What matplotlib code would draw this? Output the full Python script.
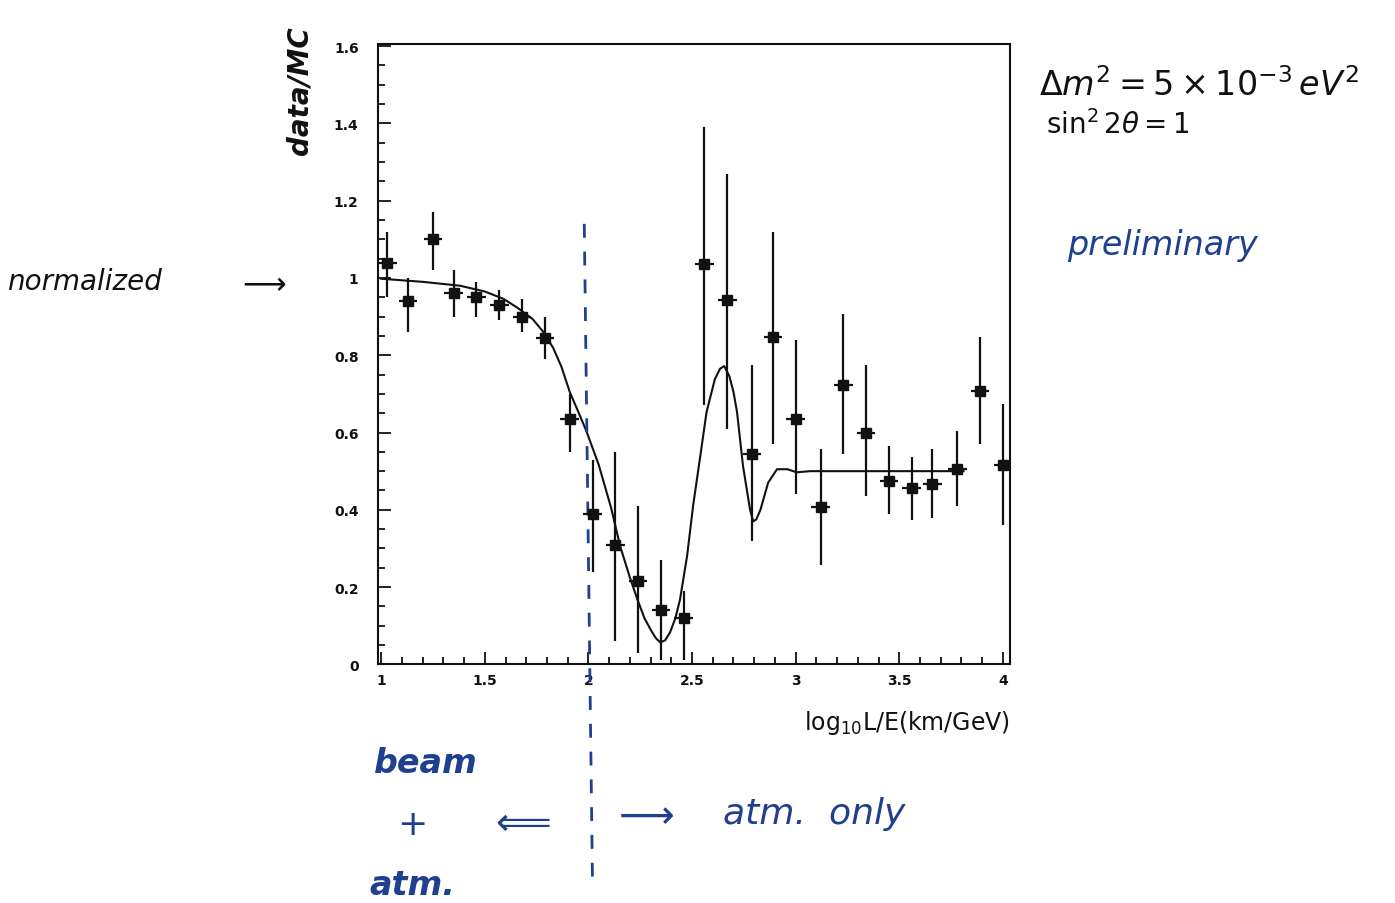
import numpy as np
import matplotlib
matplotlib.use("Agg")
import matplotlib.pyplot as plt
from matplotlib.ticker import MultipleLocator, FuncFormatter

# data / MC ratio points
x = [1.03, 1.13, 1.25, 1.35, 1.46, 1.57, 1.68, 1.79, 1.91, 2.02, 2.13, 2.24, 2.35, 2.46,
     2.56, 2.67, 2.79, 2.89, 3.00, 3.12, 3.23, 3.34, 3.45, 3.56, 3.66, 3.78, 3.89, 4.00]
y = [1.04, 0.94, 1.10, 0.96, 0.95, 0.93, 0.90, 0.845, 0.635, 0.39, 0.31, 0.215, 0.14, 0.12,
     1.036, 0.943, 0.544, 0.847, 0.635, 0.407, 0.723, 0.60, 0.474, 0.456, 0.466, 0.505, 0.707, 0.516]
y_hi = [1.12, 1.00, 1.17, 1.02, 0.99, 0.97, 0.945, 0.90, 0.70, 0.53, 0.55, 0.41, 0.27, 0.19,
        1.39, 1.27, 0.775, 1.12, 0.84, 0.557, 0.907, 0.775, 0.565, 0.536, 0.557, 0.604, 0.847, 0.674]
y_lo = [0.95, 0.86, 1.02, 0.90, 0.90, 0.89, 0.86, 0.79, 0.55, 0.24, 0.06, 0.03, 0.01, 0.01,
        0.67, 0.61, 0.32, 0.57, 0.44, 0.256, 0.544, 0.435, 0.389, 0.373, 0.378, 0.41, 0.57, 0.36]

cx = [1.00, 1.20, 1.38, 1.50, 1.59, 1.66, 1.73, 1.78, 1.83, 1.87, 1.91, 1.95, 1.99, 2.05,
      2.11, 2.153, 2.20, 2.235, 2.27, 2.30, 2.325, 2.346, 2.37, 2.394, 2.42, 2.442, 2.476,
      2.505, 2.54, 2.57, 2.61, 2.635, 2.655, 2.68, 2.70, 2.717, 2.746, 2.78, 2.795, 2.81,
      2.83, 2.867, 2.91, 2.96, 3.005, 3.07, 3.12, 3.30, 3.55, 3.81]
cy = [0.998, 0.99, 0.98, 0.965, 0.946, 0.922, 0.894, 0.862, 0.819, 0.77, 0.705, 0.655, 0.604, 0.516,
      0.404, 0.306, 0.225, 0.17, 0.12, 0.09, 0.068, 0.057, 0.062, 0.083, 0.12, 0.168, 0.28,
      0.41, 0.54, 0.653, 0.738, 0.765, 0.772, 0.746, 0.705, 0.653, 0.513, 0.40, 0.37, 0.375,
      0.40, 0.47, 0.505, 0.505, 0.497, 0.50, 0.50, 0.50, 0.50, 0.50]

blue = "#1f3f8f"
ink = "#111111"

fig = plt.figure(figsize=(13.95, 9.04), dpi=100)
ax = fig.add_axes([0.271, 0.264, 0.453, 0.686])

yerr = [np.array(y) - np.array(y_lo), np.array(y_hi) - np.array(y)]
ax.errorbar(x, y, yerr=yerr, xerr=0.045, fmt="s", color=ink, ms=7, elinewidth=1.6,
            capsize=0, zorder=3)
ax.plot(cx, cy, color=ink, lw=1.5)

ax.set_xlim(0.985, 4.034)
ax.set_ylim(0, 1.605)
ax.xaxis.set_major_locator(MultipleLocator(0.5))
ax.xaxis.set_minor_locator(MultipleLocator(0.1))
ax.yaxis.set_major_locator(MultipleLocator(0.2))
ax.yaxis.set_minor_locator(MultipleLocator(0.05))
fmt = FuncFormatter(lambda v, p: "%g" % round(v, 2))
ax.xaxis.set_major_formatter(fmt)
ax.yaxis.set_major_formatter(fmt)
ax.tick_params(which="both", direction="in", top=False, right=False, width=1.3, colors=ink,
               labelsize=10)
ax.tick_params(which="major", length=9)
ax.tick_params(which="minor", length=5)
ax.tick_params(axis="y", pad=14)
ax.tick_params(axis="x", pad=6)
for lab in ax.get_xticklabels() + ax.get_yticklabels():
    lab.set_fontweight("bold")
for s in ax.spines.values():
    s.set_linewidth(1.5)
    s.set_color(ink)

ax.text(1.0, -0.07, r"log$_{10}$L/E(km/GeV)", transform=ax.transAxes, ha="right", va="top",
        fontsize=17, color=ink)

# dashed separation line (hand drawn, runs beyond the frame)
ax.plot([1.98, 2.02], [1.14, -0.58], ls=(0, (5, 5)), color=blue, lw=2, clip_on=False)

# handwritten notes
hand = dict(family="DejaVu Sans", style="italic")
fig.text(0.215, 0.90, "data/MC", rotation=90, fontsize=20, color=ink, ha="center", va="center",
         fontweight="bold", **hand)
fig.text(0.005, 0.688, "normalized", fontsize=20, color=ink, va="center", **hand)
fig.text(0.17, 0.686, r"$\longrightarrow$", fontsize=22, color=ink, va="center")
fig.text(0.745, 0.905, r"$\Delta m^2 = 5\times10^{-3}\,eV^2$", fontsize=24, color=ink, va="center")
fig.text(0.750, 0.862, r"$\sin^2 2\theta = 1$", fontsize=20, color=ink, va="center")
fig.text(0.765, 0.728, "preliminary", fontsize=24, color=blue, va="center", **hand)
fig.text(0.268, 0.155, "beam", fontsize=24, color=blue, va="center", fontweight="bold", **hand)
fig.text(0.285, 0.087, "+", fontsize=26, color=blue, va="center")
fig.text(0.265, 0.020, "atm.", fontsize=24, color=blue, va="center", fontweight="bold", **hand)
fig.text(0.350, 0.090, r"$\Longleftarrow$", fontsize=28, color=blue, va="center")
fig.text(0.438, 0.098, r"$\longrightarrow$", fontsize=28, color=blue, va="center")
fig.text(0.518, 0.100, "atm.  only", fontsize=26, color=blue, va="center", **hand)

fig.savefig("out.png", dpi=100, facecolor="white")
